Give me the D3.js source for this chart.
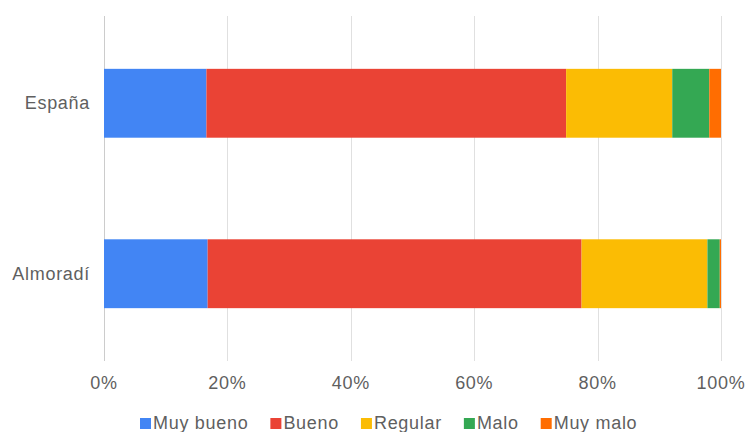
<!DOCTYPE html>
<html>
<head>
<meta charset="utf-8">
<script src="https://cdn.jsdelivr.net/npm/d3@7"></script>
<style>
  body { margin: 0; background: #fff; }
  text { font-family: Arial, "Liberation Sans", sans-serif; fill: #5f5f5f; font-size: 18px; letter-spacing: 0.7px; }
</style>
</head>
<body>
<svg id="chart" width="745" height="432"></svg>
<script>
// data (percent of each row)
var categories = ['España', 'Almoradí'];
var seriesNames = ['Muy bueno', 'Bueno', 'Regular', 'Malo', 'Muy malo'];
var colors = ['#4285f4', '#ea4335', '#fbbc04', '#34a853', '#ff6d01'];
var muyBueno = [16.6, 16.8];
var bueno = [58.3, 60.6];
var regular = [17.2, 20.4];
var malo = [6.0, 2.0];
var muyMalo = [1.9, 0.2];
var ticks = [0, 0.2, 0.4, 0.6, 0.8, 1];

var width = 745, height = 432;
var margin = {top: 16, right: 24, bottom: 71, left: 104};

var svg = d3.select('#chart');

var rows = categories.map(function(c, i) {
    return {cat: c, vals: [muyBueno[i], bueno[i], regular[i], malo[i], muyMalo[i]]};
});

var x = d3.scaleLinear().domain([0, 1]).range([margin.left, width - margin.right]);
var y = d3.scaleBand().domain(categories)
          .range([margin.top, height - margin.bottom])
          .paddingInner(0.596).paddingOuter(0.31);

// gridlines
svg.append('g').selectAll('line').data(ticks).enter().append('line')
   .attr('x1', function(d) { return Math.round(x(d)) + 0.5; })
   .attr('x2', function(d) { return Math.round(x(d)) + 0.5; })
   .attr('y1', margin.top)
   .attr('y2', height - margin.bottom)
   .attr('stroke', function(d) { return d === 0 ? '#cccccc' : '#e0e0e0'; })
   .attr('stroke-width', 1);

// stacked bars
rows.forEach(function(r) {
    var total = d3.sum(r.vals), acc = 0;
    r.vals.forEach(function(v, k) {
        var x0 = acc / total, x1 = (acc + v) / total;
        acc += v;
        svg.append('rect')
           .attr('x', x(x0))
           .attr('y', y(r.cat))
           .attr('width', x(x1) - x(x0))
           .attr('height', y.bandwidth())
           .attr('fill', colors[k]);
    });
});

// x axis labels
svg.append('g').selectAll('text').data(ticks).enter().append('text')
   .attr('x', function(d) { return x(d); })
   .attr('y', 389)
   .attr('text-anchor', 'middle')
   .text(function(d) { return d3.format('.0%')(d); });

// y axis labels
svg.append('g').selectAll('text').data(categories).enter().append('text')
   .attr('x', 90)
   .attr('y', function(d) { return y(d) + y.bandwidth() / 2 + 6; })
   .attr('text-anchor', 'end')
   .text(function(d) { return d; });

// legend
var legend = svg.append('g');
var items = legend.selectAll('g').data(seriesNames).enter().append('g');
items.append('rect')
     .attr('width', 11).attr('height', 11)
     .attr('y', 418)
     .attr('fill', function(d, i) { return colors[i]; });
items.append('text')
     .attr('x', 13)
     .attr('y', 429)
     .text(function(d) { return d; });

var pos = 140, widths = [];
items.each(function() {
    widths.push(this.querySelector('text').getComputedTextLength() + 13);
});
items.attr('transform', function(d, i) {
    var t = 'translate(' + pos + ',0)';
    pos += widths[i] + 22;
    return t;
});
</script>
</body>
</html>
